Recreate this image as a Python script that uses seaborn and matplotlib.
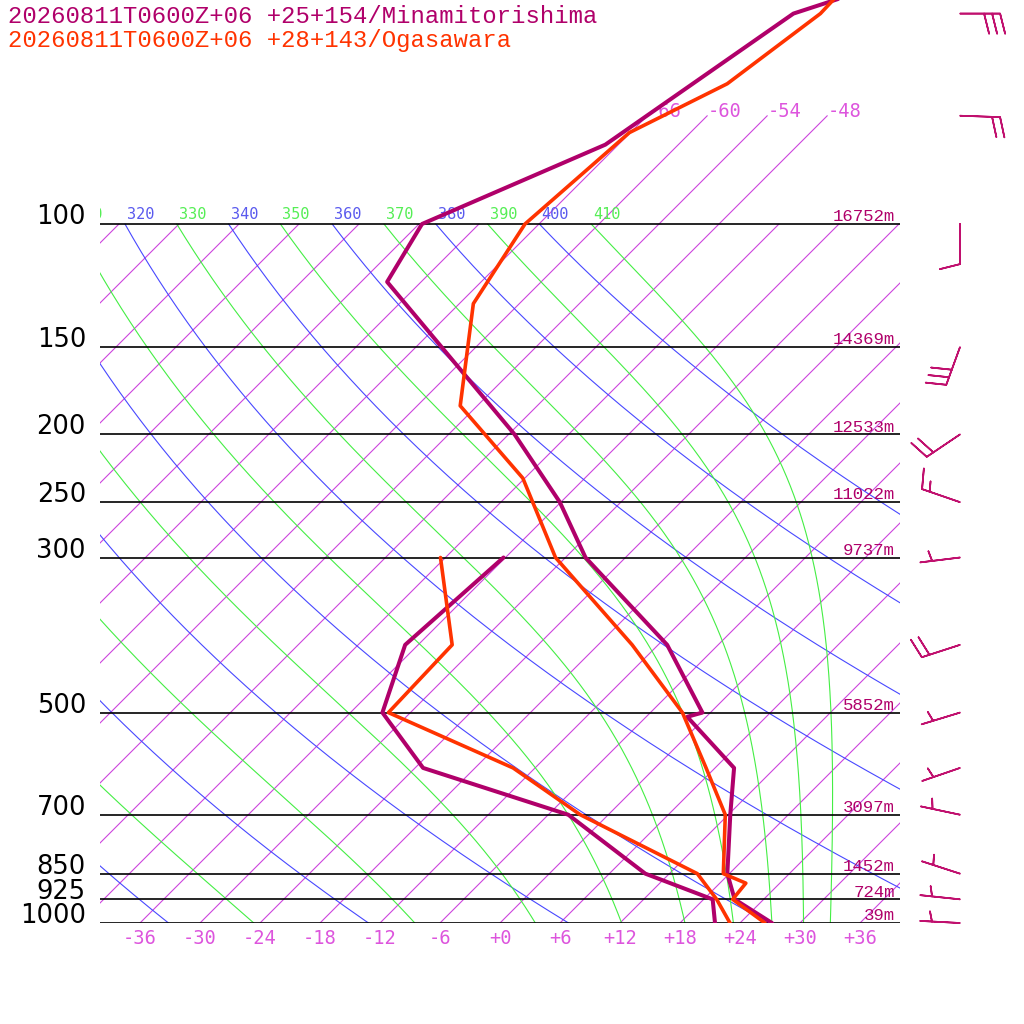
import numpy as np
import pandas as pd
import matplotlib
matplotlib.use("Agg")
import matplotlib.pyplot as plt
import seaborn as sns

# --- sounding data ---
minami_t_p = [1000, 925, 850, 700, 600, 507, 500, 400, 300, 250, 200, 121, 100, 77, 50, 45]
minami_t = [27.2, 21.1, 17.8, 12.2, 7.9, -1.9, -0.8, -11.1, -28.0, -36.1, -47.4, -75.4, -77.7, -67.3, -61.6, -55.0]
minami_td_p = [1000, 925, 850, 700, 600, 500, 400, 300]
minami_td = [21.5, 18.9, 9.6, -4.0, -23.2, -32.8, -37.3, -36.2]

ogasa_t_p = [1000, 925, 877, 850, 700, 600, 500, 400, 300, 231, 182, 130, 100, 74, 63, 50, 45]
ogasa_t = [26.5, 20.9, 20.6, 17.4, 11.7, 5.1, -2.8, -14.6, -31.0, -42.2, -55.7, -64.6, -67.4, -66.1, -61.2, -58.9, -59.1]
ogasa_td_p = [1000, 925, 850, 700, 600, 500, 400, 300]
ogasa_td = [23.0, 19.3, 14.8, -2.8, -14.2, -32.2, -32.6, -42.5]

# geopotential heights at the mandatory levels
levels = [100, 150, 200, 250, 300, 500, 700, 850, 925, 1000]
heights = [16752, 14369, 12533, 11022, 9737, 5852, 3097, 1452, 724, 39]

# winds Minamitorishima (direction deg, speed kt)
wind_p = [50, 70, 100, 150, 200, 250, 300, 400, 500, 600, 700, 850, 925, 1000]
wind_dir = [90, 92, 180, 200, 236, 289, 263, 252, 253, 251, 282, 288, 276, 273]
wind_spd = [30, 20, 10, 30, 20, 15, 5, 20, 5, 5, 5, 5, 5, 5]

title1 = "20260811T0600Z+06 +25+154/Minamitorishima"
title2 = "20260811T0600Z+06 +28+143/Ogasawara"

temp_ticks = list(range(-36, 37, 6))
dry_thetas = list(range(200, 401, 20))
moist_thetas = list(range(250, 411, 20))
top_isotherms = [-66, -60, -54, -48]

C_MIN = "#b0006a"
C_OGA = "#ff3300"
C_ISO = "#cc44dd"
C_DRY = "#4848ff"
C_WET = "#44ee44"

SKEW = 69.9          # degC of shift per decade of pressure
KAPPA = 0.2857
RD, CP, LV, EPS = 287.04, 1005.7, 2.501e6, 0.622
P_TOP = 1000 * 10 ** (-923 / 699)


def skew(t, p):
    return np.asarray(t) + SKEW * np.log10(1000.0 / np.asarray(p))


def dtdlnp(t, p):
    es = 6.112 * np.exp(17.67 * (t - 273.15) / (t - 29.65))
    rs = EPS * es / (p - es)
    return (RD * t + LV * rs) / (CP + LV ** 2 * rs * EPS / (RD * t ** 2))


def moist_line(theta, p):
    # integrate pseudo-adiabat from 100 hPa down to 1000 hPa
    lnp = np.log(p)
    t = theta * (p[0] / 1000.0) ** KAPPA
    out = [t]
    for i in range(len(p) - 1):
        h = lnp[i + 1] - lnp[i]
        p0, p1 = p[i], p[i + 1]
        pm = np.exp(0.5 * (lnp[i] + lnp[i + 1]))
        k1 = dtdlnp(t, p0)
        k2 = dtdlnp(t + 0.5 * h * k1, pm)
        k3 = dtdlnp(t + 0.5 * h * k2, pm)
        k4 = dtdlnp(t + h * k3, p1)
        t = t + h * (k1 + 2 * k2 + 2 * k3 + k4) / 6
        out.append(t)
    return np.array(out) - 273.15


sns.set_style("white")
plt.rcParams["font.family"] = ["DejaVu Sans"]

fig = plt.figure(figsize=(10.24, 10.24), dpi=100)
ax = fig.add_axes([100 / 1024, 101 / 1024, 800 / 1024, 923 / 1024])
ax.set_yscale("log")
ax.set_xlim(-40, 40)
ax.set_ylim(1000, P_TOP)
for s in ax.spines.values():
    s.set_visible(False)

pg = np.geomspace(100, 1000, 300)
lab_p = 100 * 10 ** (-5 / 699)

# isotherms
for t in range(-108, 37, 6):
    pp = np.array([1000, 70]) if t in top_isotherms else np.array([1000, 100])
    ax.plot(skew([t, t], pp), pp, color=C_ISO, lw=0.8, zorder=1)
for t in top_isotherms:
    ax.text(skew(t, 70), 70 * 10 ** (1 / 699), f"{t:d}", color="#dd55dd",
            family="DejaVu Sans Mono", fontsize=13.5, ha="left", va="baseline")

# dry adiabats
for th in dry_thetas:
    tt = th * (pg / 1000) ** KAPPA - 273.15
    ax.plot(skew(tt, pg), pg, color=C_DRY, lw=0.8, zorder=1)
    if th >= 320:
        ax.text(skew(th * 0.1 ** KAPPA - 273.15, 100) + 0.2, lab_p, str(th),
                color="#5a5aee", family="DejaVu Sans Mono", fontsize=11,
                ha="left", va="baseline", clip_on=True)

# moist adiabats
for th in moist_thetas:
    tt = moist_line(th, pg)
    ax.plot(skew(tt, pg), pg, color=C_WET, lw=0.8, zorder=1)
    if th >= 310:
        ax.text(skew(th * 0.1 ** KAPPA - 273.15, 100) + 0.2, lab_p, str(th),
                color="#55ee55", family="DejaVu Sans Mono", fontsize=11,
                ha="left", va="baseline", clip_on=True)

# isobars with labels
for p, z in zip(levels, heights):
    ax.plot([-40, 40], [p, p], color="black", lw=1.2, zorder=2)
    ax.text(-41.4, p, str(p), color="black", fontsize=18.5, ha="right", va="baseline",
            clip_on=False)
    ax.annotate(f"{z}m", xy=(39.5, p), xytext=(0, 2), textcoords="offset points",
                color=C_MIN, family="Liberation Mono", fontsize=12.5,
                ha="right", va="baseline")

# soundings
profiles = [
    (minami_t_p, minami_t, C_MIN, 2.9),
    (minami_td_p, minami_td, C_MIN, 2.9),
    (ogasa_t_p, ogasa_t, C_OGA, 2.6),
    (ogasa_td_p, ogasa_td, C_OGA, 2.6),
]
for pp, tt, col, lw in profiles:
    df = pd.DataFrame({"x": skew(tt, pp), "p": pp})
    sns.lineplot(data=df, x="x", y="p", sort=False, estimator=None, color=col,
                 lw=lw, ax=ax, zorder=5)

# wind barbs outside the diagram
wd = np.deg2rad(wind_dir)
u = -np.array(wind_spd) * np.sin(wd)
v = -np.array(wind_spd) * np.cos(wd)
ax.barbs(np.full(len(wind_p), 46.0), wind_p, u, v, length=7.6, color="#c0106e",
         linewidth=1.2, clip_on=False, sizes=dict(spacing=0.2, height=0.5, width=0.25))

ax.set_xticks(temp_ticks, [f"{t:+d}" for t in temp_ticks])
ax.set_yticks([])
ax.tick_params(axis="x", length=0, pad=4, labelsize=13.5, labelcolor="#dd55dd")
for lab in ax.get_xticklabels():
    lab.set_family("DejaVu Sans Mono")
ax.set_xlabel("")
ax.set_ylabel("")
ax.minorticks_off()

fig.text(8 / 1024, 1 - 23 / 1024, title1, color=C_MIN, family="Liberation Mono",
         fontsize=17.2, va="baseline")
fig.text(8 / 1024, 1 - 47 / 1024, title2, color=C_OGA, family="Liberation Mono",
         fontsize=17.2, va="baseline")

fig.savefig("out.png", dpi=100)
plt.close(fig)
